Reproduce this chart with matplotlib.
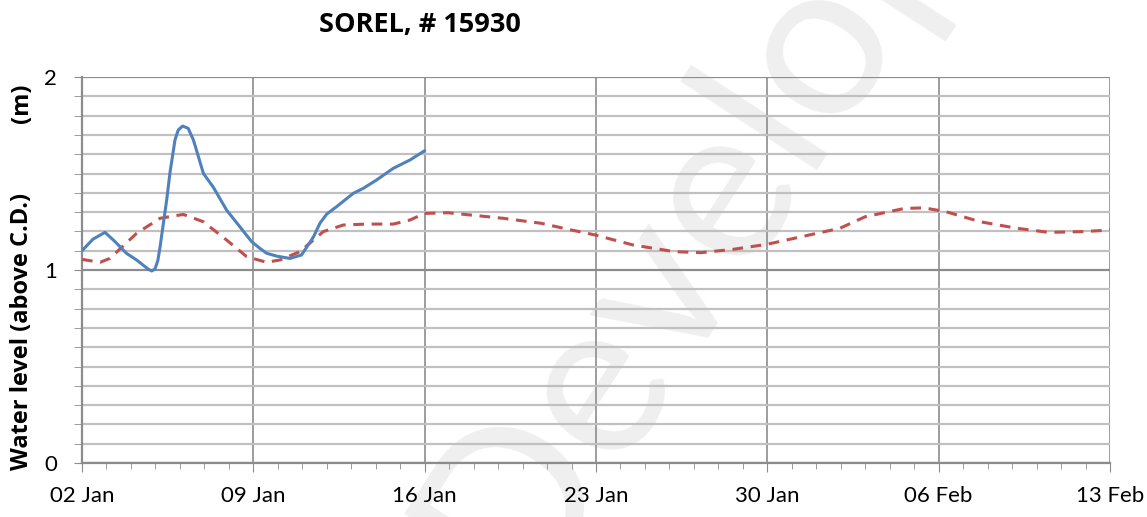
import numpy as np
import pandas as pd
import matplotlib.pyplot as plt
import matplotlib.dates as mdates
from matplotlib.ticker import MultipleLocator

# Observed water level (days after 02 Jan, metres above chart datum)
obs_days = [0.0, 0.45, 0.94, 1.35, 1.82, 2.23, 2.7, 2.85, 2.98, 3.1, 3.19, 3.46, 3.6,
            3.8, 3.93, 4.11, 4.34, 4.55, 4.75, 4.96, 5.36, 5.91, 6.45, 6.93, 7.27,
            7.54, 7.95, 8.5, 8.97, 9.45, 9.72, 10.0, 10.4, 11.08, 11.49, 12.03,
            12.72, 13.4, 14.0]
obs_level = [1.10, 1.16, 1.195, 1.147, 1.086, 1.052, 1.005, 0.995, 1.005, 1.05, 1.12, 1.363, 1.51,
             1.674, 1.725, 1.746, 1.734, 1.674, 1.59, 1.50, 1.43, 1.31, 1.224, 1.147, 1.112,
             1.087, 1.072, 1.06, 1.078, 1.17, 1.242, 1.29, 1.328, 1.397, 1.423, 1.466,
             1.527, 1.57, 1.618]

# Predicted water level
pred_days = [0.0, 0.74, 1.14, 2.23, 3.19, 4.14, 4.96, 5.91, 6.73, 7.54, 8.09, 8.9,
             9.86, 10.67, 11.63, 12.72, 13.4, 13.99, 14.93, 17.2, 18.76, 20.0, 20.98,
             22.5, 24.2, 25.3, 26.6, 27.98, 29.7, 30.96, 32.0, 33.6, 34.4, 35.3, 36.7,
             38.2, 39.5, 40.9, 42.0]
pred_level = [1.055, 1.04, 1.06, 1.19, 1.268, 1.288, 1.25, 1.155, 1.069, 1.04, 1.052, 1.095,
              1.199, 1.233, 1.238, 1.238, 1.259, 1.293, 1.297, 1.268, 1.242, 1.207, 1.181,
              1.13, 1.095, 1.09, 1.107, 1.133, 1.181, 1.216, 1.276, 1.319, 1.322, 1.302, 1.25,
              1.216, 1.195, 1.199, 1.207]

tick_labels = ['02 Jan', '09 Jan', '16 Jan', '23 Jan', '30 Jan', '06 Feb', '13 Feb']

start = pd.Timestamp('2014-01-02')
obs_t = start + pd.to_timedelta(obs_days, unit='D')
pred_t = start + pd.to_timedelta(pred_days, unit='D')
ticks = [start + pd.Timedelta(days=7 * i) for i in range(len(tick_labels))]

fig = plt.figure(figsize=(11.47, 5.17), dpi=100)
ax = fig.add_axes([82 / 1147, 54 / 517, 1028 / 1147, 386 / 517])
ax.patch.set_alpha(0)

# faint watermark behind everything
fig.text(518 / 1147, (517 - 600) / 517, 'Development', fontsize=160, color='#efefef',
         rotation=57, ha='left', va='baseline', rotation_mode='anchor', zorder=-1,
         family='Lato')

ax.plot(pred_t, pred_level, color='#C0504D', lw=2.2, dashes=(3.5, 2.5), zorder=3)
ax.plot(obs_t, obs_level, color='#4F81BD', lw=2.2, zorder=4,
        solid_joinstyle='round', solid_capstyle='round')

ax.set_xlim(ticks[0], ticks[-1])
ax.set_ylim(0, 2)
ax.set_xticks(ticks)
ax.set_xticklabels(tick_labels)
ax.xaxis.set_minor_locator(mdates.DayLocator())
ax.set_yticks([0, 1, 2])
ax.set_yticklabels(['0', '1', '2'])
ax.yaxis.set_minor_locator(MultipleLocator(0.1))

ax.grid(True, which='minor', axis='y', color='#c0c0c0', lw=1.6, zorder=1)
ax.grid(True, which='major', axis='y', color='#8c8c8c', lw=1.6, zorder=1)
ax.grid(True, which='major', axis='x', color='#8c8c8c', lw=1.2, zorder=1)

for s in ['top', 'right']:
    ax.spines[s].set_visible(False)
for s in ['left', 'bottom']:
    ax.spines[s].set_color('#8c8c8c')
    ax.spines[s].set_linewidth(1.6)

ax.tick_params(axis='x', which='major', length=6.5, color='#8c8c8c', pad=10, labelsize=16)
ax.tick_params(axis='x', which='minor', length=4, color='#8c8c8c')
ax.tick_params(axis='y', which='both', length=6, color='#8c8c8c', pad=12, labelsize=16)
for lab in ax.get_xticklabels() + ax.get_yticklabels():
    lab.set_family('Lato')

fig.text(420 / 1147, 1 - 25 / 517, 'SOREL, # 15930', fontsize=19.5, fontweight='bold',
         ha='center', va='center', family='Open Sans')
fig.text(22 / 1147, 1 - 331 / 517, 'Water level (above C.D.)', fontsize=17,
         fontweight='bold', rotation=90, ha='center', va='center', family='Open Sans')
fig.text(22 / 1147, 1 - 103 / 517, '(m)', fontsize=17,
         fontweight='bold', rotation=90, ha='center', va='center', family='Open Sans')

fig.savefig('out.png', dpi=100)
